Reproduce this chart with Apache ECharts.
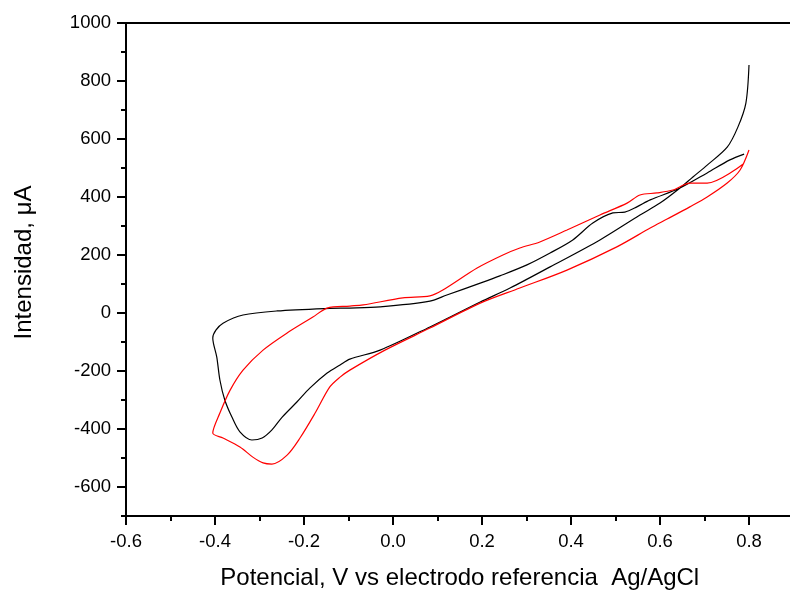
<!DOCTYPE html>
<html>
<head>
<meta charset="utf-8">
<script src="https://cdn.jsdelivr.net/npm/echarts@6/dist/echarts.min.js"></script>
<style>html,body{margin:0;padding:0;background:#fff}#c{width:790px;height:592px}</style>
</head>
<body>
<div id="c"></div>
<script>
// Black curve: potential (V) and current (µA), in drawing order
var blackV = [0.789, 0.757, 0.706, 0.645, 0.578, 0.548, 0.521, 0.494, 0.449, 0.404, 0.353, 0.301, 0.240, 0.196, 0.121, 0.083, -0.029, -0.097, -0.142, -0.261, -0.337, -0.382, -0.398, -0.405,
  -0.396, -0.389, -0.378, -0.362, -0.344, -0.317, -0.294, -0.272, -0.249, -0.216, -0.187, -0.148, -0.119, -0.097, -0.029, 0.083, 0.196, 0.263, 0.353, 0.465, 0.555, 0.600, 0.645, 0.674, 0.706, 0.751, 0.775, 0.793, 0.800];
var blackI = [548, 528, 483, 431, 390, 366, 348, 345, 310, 252, 207, 166, 128, 103, 62, 41, 21, 17, 16, 7, -7, -35, -59, -86,
  -152, -231, -300, -359, -410, -438, -431, -403, -359, -307, -259, -207, -179, -159, -128, -48, 38, 86, 159, 252, 338, 379, 431, 469, 510, 572, 641, 724, 855];
// Red curve
var redV = [0.787, 0.706, 0.667, 0.629, 0.593, 0.555, 0.526, 0.465, 0.391, 0.330, 0.285, 0.247, 0.189, 0.112, 0.083, 0.022, -0.067, -0.097, -0.148, -0.180, -0.238, -0.292, -0.337, -0.366, -0.389, -0.405,
  -0.382, -0.344, -0.315, -0.292, -0.272, -0.238, -0.209, -0.175, -0.142, -0.119, -0.097, -0.018, 0.083, 0.196, 0.285, 0.391, 0.503, 0.578, 0.616, 0.667, 0.706, 0.751, 0.780, 0.800];
var redI = [514, 448, 448, 424, 414, 407, 379, 338, 286, 245, 224, 200, 155, 79, 59, 52, 28, 24, 17, -14, -69, -128, -197, -266, -345, -414,
  -431, -462, -497, -517, -521, -490, -431, -345, -255, -221, -197, -128, -52, 34, 86, 148, 228, 293, 324, 366, 400, 448, 493, 562];
// Tick values
var xMajor = [-0.6, -0.4, -0.2, 0.0, 0.2, 0.4, 0.6, 0.8];
var yMajor = [-600, -400, -200, 0, 200, 400, 600, 800, 1000];

function pairs(xs, ys) { return xs.map(function (x, i) { return [x, ys[i]]; }); }

var font = 'Liberation Sans, Arial, sans-serif';
var chart = echarts.init(document.getElementById('c'), null, { renderer: 'canvas' });
chart.setOption({
  animation: false,
  backgroundColor: '#fff',
  grid: { left: 126, top: 23, right: -3.5, bottom: 76, containLabel: false, outerBoundsMode: 'none',
    show: true, borderColor: '#000', borderWidth: 2, backgroundColor: 'transparent' },
  xAxis: [{
    type: 'value', min: -0.6, max: 0.9, interval: 0.1, position: 'bottom',
    name: 'Potencial, V vs electrodo referencia  Ag/AgCl', nameLocation: 'middle', nameGap: 50,
    nameTextStyle: { fontFamily: font, fontSize: 24, color: '#000' },
    axisLine: { show: true, onZero: false, lineStyle: { color: '#000', width: 2 } },
    axisTick: { show: true, length: 9, customValues: xMajor, lineStyle: { color: '#000', width: 2 } },
    axisLabel: { show: true, customValues: xMajor, margin: 16, fontFamily: font, fontSize: 18.5, color: '#000',
      formatter: function (v) { return (Math.abs(v) < 1e-9 ? 0 : v).toFixed(1); } },
    splitLine: { show: false }
  }, {
    type: 'value', min: -0.6, max: 0.9, interval: 0.1, position: 'bottom', offset: 0,
    axisLine: { show: false, onZero: false }, axisLabel: { show: false }, splitLine: { show: false },
    axisTick: { show: true, length: 5, lineStyle: { color: '#000', width: 2 } }
  }],
  yAxis: [{
    type: 'value', min: -700, max: 1000, interval: 100, position: 'left',
    name: 'Intensidad, μA', nameLocation: 'middle', nameGap: 90,
    nameTextStyle: { fontFamily: font, fontSize: 24, color: '#000', padding: [0, 0, 0, 14] },
    axisLine: { show: true, onZero: false, lineStyle: { color: '#000', width: 2 } },
    axisTick: { show: true, length: 9, customValues: yMajor, lineStyle: { color: '#000', width: 2 } },
    axisLabel: { show: true, customValues: yMajor, margin: 15, fontFamily: font, fontSize: 18.5, color: '#000',
      formatter: function (v) { return String(v); } },
    splitLine: { show: false }
  }, {
    type: 'value', min: -700, max: 1000, interval: 100, position: 'left', offset: 0,
    axisLine: { show: false, onZero: false }, axisLabel: { show: false }, splitLine: { show: false },
    axisTick: { show: true, length: 5, lineStyle: { color: '#000', width: 2 } }
  }],
  series: [{
    type: 'line', xAxisIndex: 0, yAxisIndex: 0, data: pairs(blackV, blackI),
    showSymbol: false, smooth: 0.3, lineStyle: { color: '#000', width: 1.2 }, itemStyle: { color: '#000' }
  }, {
    type: 'line', xAxisIndex: 0, yAxisIndex: 0, data: pairs(redV, redI),
    showSymbol: false, smooth: 0.3, lineStyle: { color: '#ff0000', width: 1.2 }, itemStyle: { color: '#ff0000' }
  }]
});
</script>
</body>
</html>
